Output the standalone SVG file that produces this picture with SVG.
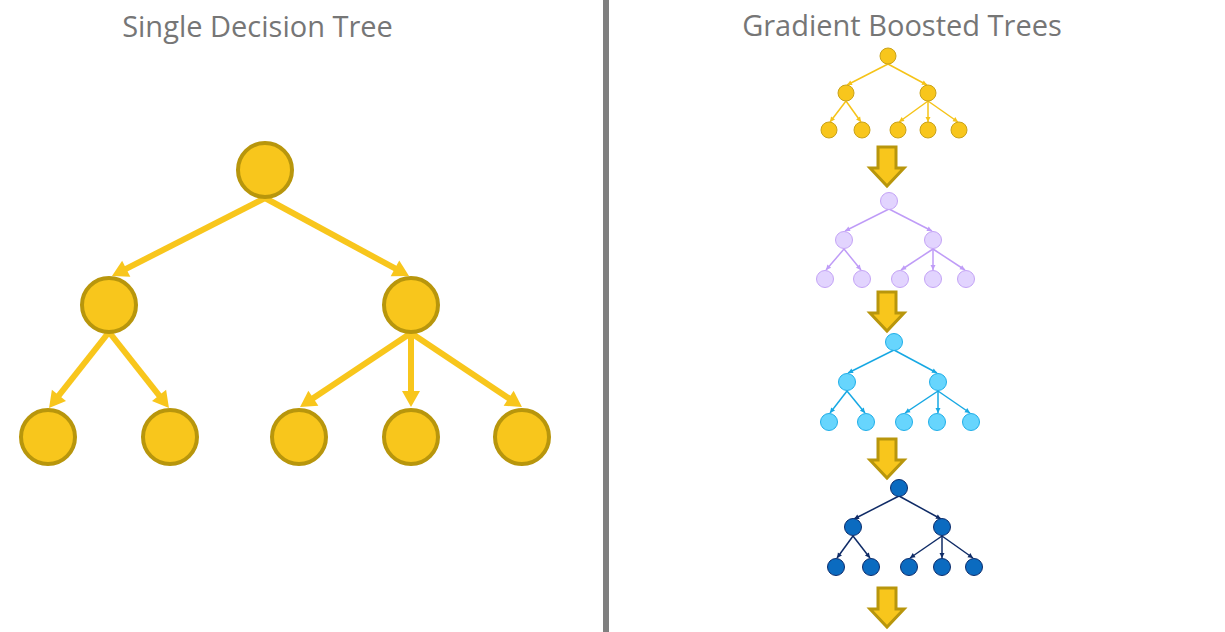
<svg xmlns="http://www.w3.org/2000/svg" width="1225" height="632" viewBox="0 0 1225 632">
<style>
.title{font-family:"Open Sans","Noto Sans","Liberation Sans",sans-serif;font-size:29px;fill:#767676;text-anchor:middle}
.big{fill:#F8C61C;stroke:#B8960C;stroke-width:4}
.bigedge{stroke:#F8C61C;stroke-width:6;fill:none;marker-end:url(#bigArrow)}
.g1 circle{fill:#F8C61C;stroke:#C9A21A;stroke-width:1}
.e1{stroke:#F5C318;stroke-width:1.5;fill:none;marker-end:url(#a1)}
.g2 circle{fill:#E2D4FE;stroke:#C4A4F6;stroke-width:1}
.e2{stroke:#BF9CF7;stroke-width:1.5;fill:none;marker-end:url(#a2)}
.g3 circle{fill:#67D5FD;stroke:#1FAEE8;stroke-width:1}
.e3{stroke:#17A8E3;stroke-width:1.5;fill:none;marker-end:url(#a3)}
.g4 circle{fill:#0B6BC0;stroke:#0C2C6C;stroke-width:1}
.e4{stroke:#0F2B66;stroke-width:1.5;fill:none;marker-end:url(#a4)}
.blk{fill:#F8C61C;stroke:#B8960C;stroke-width:3;stroke-linejoin:miter}
</style>
<defs>
<marker id="bigArrow" markerUnits="userSpaceOnUse" markerWidth="18" markerHeight="20" refX="8" refY="9" orient="auto" overflow="visible"><path d="M0,0 L16,9 L0,18 z" fill="#F8C61C"/></marker>
<marker id="a1" markerUnits="userSpaceOnUse" markerWidth="6" markerHeight="6" refX="5" refY="2.5" orient="auto" overflow="visible"><path d="M0,0 L5,2.5 L0,5 z" fill="#F5C318"/></marker>
<marker id="a2" markerUnits="userSpaceOnUse" markerWidth="6" markerHeight="6" refX="5" refY="2.5" orient="auto" overflow="visible"><path d="M0,0 L5,2.5 L0,5 z" fill="#BF9CF7"/></marker>
<marker id="a3" markerUnits="userSpaceOnUse" markerWidth="6" markerHeight="6" refX="5" refY="2.5" orient="auto" overflow="visible"><path d="M0,0 L5,2.5 L0,5 z" fill="#17A8E3"/></marker>
<marker id="a4" markerUnits="userSpaceOnUse" markerWidth="6" markerHeight="6" refX="5" refY="2.5" orient="auto" overflow="visible"><path d="M0,0 L5,2.5 L0,5 z" fill="#0F2B66"/></marker>
<path id="blockArrow" d="M-9,0 L9,0 L9,21 L17,21 L0,39 L-17,21 L-9,21 Z"/>
</defs>
<rect width="1225" height="632" fill="#FFFFFF"/>

<rect id="divider" x="603" y="0" width="6" height="632" fill="#7F7F7F"/>

<text id="title-left" class="title" x="257.5" y="37">Single Decision Tree</text>
<text id="title-right" class="title" x="902" y="36">Gradient Boosted Trees</text>

<!-- Single tree connectors -->
<g id="connectors-single">
<line class="bigedge" x1="265" y1="198" x2="119.1" y2="272.4"/>
<line class="bigedge" x1="265" y1="198" x2="402" y2="272.2"/>
<line class="bigedge" x1="109" y1="332" x2="54" y2="401.7"/>
<line class="bigedge" x1="109" y1="332" x2="164" y2="401.7"/>
<line class="bigedge" x1="411" y1="333" x2="306.7" y2="402.6"/>
<line class="bigedge" x1="411" y1="333" x2="411" y2="399"/>
<line class="bigedge" x1="411" y1="333" x2="515.3" y2="402.6"/>
</g>
<g id="single-root"><circle class="big" cx="265" cy="170" r="27"/></g>
<g id="single-l"><circle class="big" cx="109" cy="305" r="27"/></g>
<g id="single-r"><circle class="big" cx="411" cy="305" r="27"/></g>
<g id="single-ll"><circle class="big" cx="48" cy="437" r="27"/></g>
<g id="single-lr"><circle class="big" cx="170" cy="437" r="27"/></g>
<g id="single-rl"><circle class="big" cx="299" cy="437" r="27"/></g>
<g id="single-rm"><circle class="big" cx="411" cy="437" r="27"/></g>
<g id="single-rr"><circle class="big" cx="522" cy="437" r="27"/></g>

<!-- Tree 1 gold -->
<g id="connectors-t1">
<line class="e1" x1="888" y1="64" x2="847" y2="85"/>
<line class="e1" x1="888" y1="64" x2="927" y2="85"/>
<line class="e1" x1="846" y1="101" x2="830" y2="122"/>
<line class="e1" x1="846" y1="101" x2="861" y2="122"/>
<line class="e1" x1="928" y1="101" x2="899" y2="122"/>
<line class="e1" x1="928" y1="101" x2="928" y2="122"/>
<line class="e1" x1="928" y1="101" x2="958" y2="122"/>
</g>
<g class="g1">
<g id="t1-root"><circle cx="888" cy="56" r="8"/></g>
<g id="t1-l"><circle cx="846" cy="93" r="8"/></g>
<g id="t1-r"><circle cx="928" cy="93" r="8"/></g>
<g id="t1-ll"><circle cx="829" cy="130" r="8"/></g>
<g id="t1-lr"><circle cx="862" cy="130" r="8"/></g>
<g id="t1-rl"><circle cx="898" cy="130" r="8"/></g>
<g id="t1-rm"><circle cx="928" cy="130" r="8"/></g>
<g id="t1-rr"><circle cx="959" cy="130" r="8"/></g>
</g>

<!-- Tree 2 purple -->
<g id="connectors-t2">
<line class="e2" x1="889" y1="209" x2="845" y2="231"/>
<line class="e2" x1="889" y1="209" x2="932" y2="231"/>
<line class="e2" x1="844" y1="249" x2="826" y2="270"/>
<line class="e2" x1="844" y1="249" x2="861" y2="270"/>
<line class="e2" x1="933" y1="249" x2="901" y2="270"/>
<line class="e2" x1="933" y1="249" x2="933" y2="270"/>
<line class="e2" x1="933" y1="249" x2="965" y2="270"/>
</g>
<g class="g2">
<g id="t2-root"><circle cx="889" cy="201" r="8.5"/></g>
<g id="t2-l"><circle cx="844" cy="240" r="8.5"/></g>
<g id="t2-r"><circle cx="933" cy="240" r="8.5"/></g>
<g id="t2-ll"><circle cx="825" cy="279" r="8.5"/></g>
<g id="t2-lr"><circle cx="862" cy="279" r="8.5"/></g>
<g id="t2-rl"><circle cx="900" cy="279" r="8.5"/></g>
<g id="t2-rm"><circle cx="933" cy="279" r="8.5"/></g>
<g id="t2-rr"><circle cx="966" cy="279" r="8.5"/></g>
</g>

<!-- Tree 3 cyan -->
<g id="connectors-t3">
<line class="e3" x1="894" y1="350" x2="848" y2="373"/>
<line class="e3" x1="894" y1="350" x2="937" y2="373"/>
<line class="e3" x1="847" y1="391" x2="830" y2="413"/>
<line class="e3" x1="847" y1="391" x2="865" y2="413"/>
<line class="e3" x1="938" y1="391" x2="905" y2="413"/>
<line class="e3" x1="938" y1="391" x2="938" y2="413"/>
<line class="e3" x1="938" y1="391" x2="970" y2="413"/>
</g>
<g class="g3">
<g id="t3-root"><circle cx="894" cy="342" r="8.5"/></g>
<g id="t3-l"><circle cx="847" cy="382" r="8.5"/></g>
<g id="t3-r"><circle cx="938" cy="382" r="8.5"/></g>
<g id="t3-ll"><circle cx="829" cy="422" r="8.5"/></g>
<g id="t3-lr"><circle cx="866" cy="422" r="8.5"/></g>
<g id="t3-rl"><circle cx="904" cy="422" r="8.5"/></g>
<g id="t3-rm"><circle cx="937" cy="422" r="8.5"/></g>
<g id="t3-rr"><circle cx="971" cy="422" r="8.5"/></g>
</g>

<!-- Tree 4 navy -->
<g id="connectors-t4">
<line class="e4" x1="899" y1="496" x2="854" y2="519"/>
<line class="e4" x1="899" y1="496" x2="941" y2="519"/>
<line class="e4" x1="853" y1="536" x2="837" y2="558"/>
<line class="e4" x1="853" y1="536" x2="870" y2="558"/>
<line class="e4" x1="942" y1="536" x2="910" y2="558"/>
<line class="e4" x1="942" y1="536" x2="942" y2="558"/>
<line class="e4" x1="942" y1="536" x2="973" y2="558"/>
</g>
<g class="g4">
<g id="t4-root"><circle cx="899" cy="488" r="8.5"/></g>
<g id="t4-l"><circle cx="853" cy="527" r="8.5"/></g>
<g id="t4-r"><circle cx="942" cy="527" r="8.5"/></g>
<g id="t4-ll"><circle cx="836" cy="567" r="8.5"/></g>
<g id="t4-lr"><circle cx="871" cy="567" r="8.5"/></g>
<g id="t4-rl"><circle cx="909" cy="567" r="8.5"/></g>
<g id="t4-rm"><circle cx="942" cy="567" r="8.5"/></g>
<g id="t4-rr"><circle cx="974" cy="567" r="8.5"/></g>
</g>

<!-- Block arrows between trees -->
<g id="block-arrow-1"><use href="#blockArrow" class="blk" transform="translate(887,147)"/></g>
<g id="block-arrow-2"><use href="#blockArrow" class="blk" transform="translate(887,292)"/></g>
<g id="block-arrow-3"><use href="#blockArrow" class="blk" transform="translate(887,439)"/></g>
<g id="block-arrow-4"><use href="#blockArrow" class="blk" transform="translate(887,588)"/></g>
</svg>
